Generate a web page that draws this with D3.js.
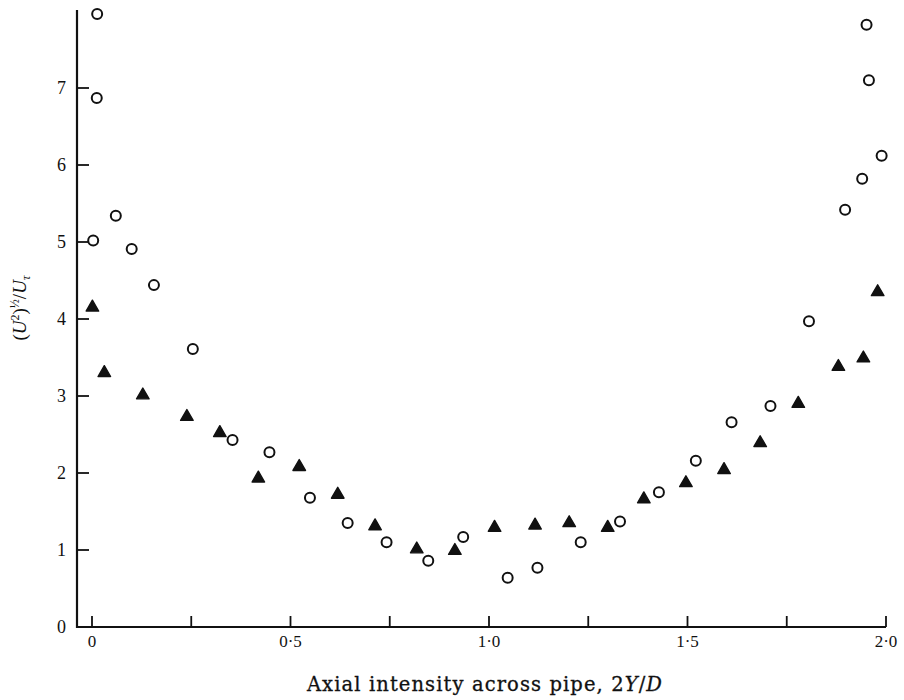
<!DOCTYPE html>
<html>
<head>
<meta charset="utf-8">
<script src="https://cdn.jsdelivr.net/npm/d3@7/dist/d3.min.js"></script>
<style>
  body { margin: 0; background: #fff; }
  svg text { font-family: "Liberation Serif", "DejaVu Serif", serif; fill: #111; }
</style>
</head>
<body>
<script>
// open circles
const circleX = [0.013, 0.012, 0.060, 0.003, 0.100, 0.156, 0.254, 0.354, 0.447, 0.549, 0.644, 0.742, 0.847, 0.935,
  1.047, 1.122, 1.231, 1.330, 1.428, 1.521, 1.611, 1.709, 1.806, 1.897, 1.940, 1.951, 1.957, 1.989];
const circleY = [7.96, 6.87, 5.34, 5.02, 4.91, 4.44, 3.61, 2.43, 2.27, 1.68, 1.35, 1.10, 0.86, 1.17,
  0.64, 0.77, 1.10, 1.37, 1.75, 2.16, 2.66, 2.87, 3.97, 5.42, 5.82, 7.82, 7.10, 6.12];

// filled triangles
const triX = [0.001, 0.031, 0.128, 0.239, 0.322, 0.419, 0.522, 0.619, 0.713, 0.818, 0.914, 1.014,
  1.116, 1.202, 1.299, 1.390, 1.496, 1.592, 1.683, 1.779, 1.880, 1.943, 1.979];
const triY = [4.15, 3.30, 3.01, 2.73, 2.52, 1.93, 2.08, 1.72, 1.31, 1.01, 0.99, 1.29,
  1.32, 1.35, 1.29, 1.66, 1.87, 2.04, 2.39, 2.90, 3.38, 3.49, 4.35];

const xTicks = [0, 0.25, 0.5, 0.75, 1, 1.25, 1.5, 1.75, 2];
const xLabels = ["0", "", "0·5", "", "1·0", "", "1·5", "", "2·0"];
const yTicks = [1, 2, 3, 4, 5, 6, 7];

const width = 904, height = 700;
const axisLeft = 77, axisBottom = 627;

const x = d3.scaleLinear().domain([0, 2]).range([92, 886]);
const y = d3.scaleLinear().domain([0, 7]).range([axisBottom, 88]);

const svg = d3.select("body").append("svg")
  .attr("width", width)
  .attr("height", height);

// axis lines
svg.append("path")
  .attr("d", `M${axisLeft},10V${axisBottom}H${x(2)}`)
  .attr("fill", "none")
  .attr("stroke", "#111")
  .attr("stroke-width", 2.2);

// x ticks, pointing up
svg.append("g").selectAll("line")
  .data(xTicks)
  .join("line")
  .attr("x1", d => x(d)).attr("x2", d => x(d))
  .attr("y1", axisBottom).attr("y2", axisBottom - 11)
  .attr("stroke", "#111")
  .attr("stroke-width", 1.8);

svg.append("g").selectAll("text")
  .data(xTicks)
  .join("text")
  .attr("x", d => x(d))
  .attr("y", axisBottom + 20)
  .attr("text-anchor", "middle")
  .attr("font-size", 17)
  .text((d, i) => xLabels[i]);

// y ticks, pointing right
svg.append("g").selectAll("line")
  .data(yTicks)
  .join("line")
  .attr("x1", axisLeft).attr("x2", axisLeft + 12)
  .attr("y1", d => y(d)).attr("y2", d => y(d))
  .attr("stroke", "#111")
  .attr("stroke-width", 1.8);

svg.append("g").selectAll("text")
  .data([0].concat(yTicks))
  .join("text")
  .attr("x", 66)
  .attr("y", d => y(d) + 6)
  .attr("text-anchor", "end")
  .attr("font-size", 18)
  .text(d => d);

// x title
const xt = svg.append("text")
  .attr("x", 485)
  .attr("y", 691)
  .attr("text-anchor", "middle")
  .attr("font-size", 19.5)
  .attr("letter-spacing", 1.1)
  .attr("stroke", "#111")
  .attr("stroke-width", 0.3)
  .style("font-family", "'DejaVu Serif', serif");
xt.append("tspan").text("Axial intensity across pipe, 2");
xt.append("tspan").attr("font-style", "italic").text("Y");
xt.append("tspan").text("/");
xt.append("tspan").attr("font-style", "italic").text("D");

// y title
const yt = svg.append("text")
  .attr("transform", "translate(26,308) rotate(-90)")
  .attr("text-anchor", "middle")
  .attr("font-size", 19);
yt.append("tspan").text("(");
yt.append("tspan").attr("font-style", "italic").text("U");
yt.append("tspan").attr("font-size", 12).attr("dy", -7).text("2");
yt.append("tspan").attr("dy", 7).text(")");
yt.append("tspan").attr("font-size", 12).attr("dy", -7).text("½");
yt.append("tspan").attr("dy", 7).text("/");
yt.append("tspan").attr("font-style", "italic").text("U");
yt.append("tspan").attr("font-size", 13).attr("font-style", "italic").attr("dy", 4).text("τ");

// points
const circles = circleX.map((d, i) => ({x: d, y: circleY[i]}));
const tris = triX.map((d, i) => ({x: d, y: triY[i]}));

svg.append("g").selectAll("circle")
  .data(circles)
  .join("circle")
  .attr("cx", d => x(d.x))
  .attr("cy", d => y(d.y))
  .attr("r", 5)
  .attr("fill", "#fff")
  .attr("stroke", "#111")
  .attr("stroke-width", 2);

const tri = d3.symbol().type(d3.symbolTriangle).size(68);
svg.append("g").selectAll("path")
  .data(tris)
  .join("path")
  .attr("transform", d => `translate(${x(d.x)},${y(d.y)})`)
  .attr("d", tri)
  .attr("fill", "#111")
  .attr("stroke", "#111")
  .attr("stroke-width", 1.4)
  .attr("stroke-linejoin", "round");
</script>
</body>
</html>
